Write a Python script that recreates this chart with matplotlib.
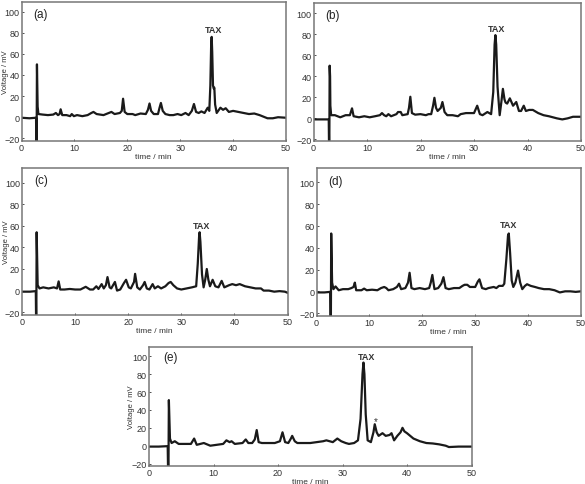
import matplotlib
matplotlib.use("Agg")
import matplotlib.pyplot as plt

plt.rcParams['font.family'] = ['Liberation Sans', 'DejaVu Sans']

# ---- data: (time / min, voltage / mV) ----
trace_a = [(0,-0.5),(1.5,-1),(2.75,-0.5),(2.8,-25),(2.86,-25),(2.92,50),(3.05,10),(3.2,3),(4,2.5),(5,2),(6,2.5),(6.5,4),(6.9,2),(7.2,3),(7.4,7.5),(7.7,2),(8.5,2),(9.2,1),(9.5,3),(9.9,1),(10.5,2),(11.5,1),(12.5,2),(13.2,4),(13.6,5),(14.2,3),(15.5,2),(16.5,4),(17,5),(17.6,3),(18.6,4),(18.95,6),(19.2,17.5),(19.5,5),(20,3),(21,3),(21.5,2),(22.5,3.5),(23.5,3),(23.9,7),(24.2,13),(24.5,6),(25,3),(25.8,3),(26.1,9),(26.35,13.5),(26.7,6),(27.2,3),(28,2),(28.7,2),(29.5,3),(30.2,2),(31,4),(31.6,2),(32.2,6),(32.6,12.5),(33,5),(33.5,4),(34,5.5),(34.6,4),(35.2,9),(35.5,6),(35.7,30),(35.85,68),(35.95,76),(36.05,62),(36.2,30),(36.35,27),(36.45,28),(36.6,12),(36.9,4),(37.6,9),(38.1,7),(38.6,8.5),(39.2,5),(40,6),(41,5),(42,4),(43,3),(44,3.5),(45,2),(46.5,-1),(47.5,-1),(48.5,0),(50,-0.5)]

trace_b = [(0,-1),(1.5,-1),(2.85,-1),(2.9,-25),(2.96,-25),(3.02,50),(3.1,40),(3.15,12),(3.3,3),(4,3),(5,1),(6,3),(6.8,3),(7.2,9.5),(7.5,2),(8.5,1),(9.5,2),(10.5,1),(11.5,2),(12.4,3),(12.8,5),(13.2,3),(13.6,2),(14,4),(14.5,2),(15.5,4),(15.8,6),(16.3,6),(16.6,3),(17.6,4),(17.85,10),(18.1,20.5),(18.4,5),(19,3.5),(20,4),(21,3),(21.5,4),(22,4),(22.35,12),(22.6,19.5),(22.9,10),(23.2,7),(23.8,10),(24.1,15.5),(24.5,6),(25,3),(26,3),(27,2),(27.5,4),(28.5,5),(29.5,5),(30,5),(30.6,12),(31.1,4),(31.6,3),(32.5,6),(33.2,4),(33.6,25),(33.85,70),(34,79),(34.15,70),(34.4,30),(34.8,3),(35.1,15),(35.4,28),(35.7,18),(35.9,15),(36.2,14),(36.7,19),(37.3,12),(37.9,15.5),(38.4,7),(38.8,7),(39.3,12),(39.7,7),(40.3,8),(41,8),(42,5),(43,3),(44,2),(45.5,0),(46.5,-1),(47.5,0),(48.5,1.5),(50,1.5)]

trace_c = [(0,-1),(1.5,-1),(2.6,-0.5),(2.65,-25),(2.7,-25),(2.76,54),(2.95,5),(3.3,2),(4,3),(5,2),(6,3),(6.6,2),(6.9,8.5),(7.2,1),(8,1),(9,1.5),(10,1),(11,1),(12,3.5),(12.8,1),(13.4,1),(14,4),(14.4,1.5),(15,6),(15.4,2),(15.8,5),(16.1,12.5),(16.5,3),(16.8,2),(17.5,8),(17.9,0),(18.5,1),(19.2,7),(19.6,10),(20.1,3),(20.5,2),(21.1,8),(21.3,15.5),(21.7,3),(22.2,1),(22.8,5),(23.1,8),(23.5,2),(24,1),(24.6,6),(25,2),(25.6,4),(26.2,2),(27,4),(27.6,7),(28,8),(28.5,5),(29.2,2),(30,1),(31,2),(32,3),(32.8,4),(33.1,25),(33.35,50),(33.45,54),(33.6,45),(33.9,15),(34.2,3),(34.5,10),(34.8,20),(35.1,10),(35.4,4),(35.9,10),(36.4,4),(37,3),(37.6,9),(38.1,3),(39,5),(39.6,6),(40.3,5),(41,6),(42,4),(43,3),(44,2),(45,2),(45.5,0),(46.5,0),(47.5,-1),(48.5,-0.5),(49.5,-1),(50,-2)]

trace_d = [(0,-1),(1.5,-1),(2.6,-0.5),(2.65,-25),(2.72,-25),(2.78,53),(2.95,8),(3.2,2),(3.6,4.5),(4.2,1),(5,2),(6,2),(6.6,3),(7,4),(7.25,8),(7.5,1),(8.5,1),(9,2.5),(9.5,1),(10.5,1.5),(11.5,1),(12.2,3),(12.8,4),(13.2,3),(13.6,1),(14.5,2),(15.2,4),(15.6,7),(16,2),(16.8,3),(17.3,8),(17.6,17),(17.95,3),(18.5,2),(19.5,3),(20.5,2),(21.3,3),(21.6,8),(21.9,15),(22.3,2),(23,3),(23.6,7),(24,13),(24.4,3),(25,2),(26,3),(27,3),(27.6,5),(28,6),(28.5,6),(29,4),(30,4),(30.5,9),(30.8,11),(31.3,3),(32,2),(32.5,3),(33.5,4),(34,3),(34.5,5),(35.2,5),(35.5,7),(35.9,30),(36.2,51),(36.35,53),(36.6,35),(36.9,10),(37.2,4),(37.6,8),(38.1,19),(38.5,8),(38.9,2),(39.4,5),(39.8,6.5),(40.5,5),(41.3,4),(42,3),(43,2),(44,2),(45,1),(46,-1),(47,0),(48,0),(49,-0.5),(50,0)]

trace_e = [(0,-1),(1.5,-1),(2.9,-0.5),(2.95,-25),(3.02,-25),(3.08,51),(3.25,8),(3.5,3),(4,5),(4.6,2),(5.5,2),(6.5,2),(7,8),(7.4,1),(8.5,3),(9.5,0),(10.5,1),(11.5,2),(12,6),(12.5,4),(12.8,5),(13.3,2),(14.5,3),(15,7),(15.4,3),(16,3),(16.4,7),(16.7,17.5),(17,4),(17.5,3),(18.5,3),(19.5,3),(20.3,5),(20.7,15),(21.1,4),(21.6,3),(22,8),(22.2,11),(22.6,5),(23,3),(24,3),(25,3),(26,4),(27,5),(27.5,6),(28,5),(28.5,4),(29.2,8),(29.8,5),(30.5,3),(31,2),(31.8,3),(32.4,6),(32.8,30),(33.1,80),(33.25,93),(33.4,80),(33.6,35),(33.9,6),(34.4,4),(34.8,15),(35,24),(35.3,15),(35.6,11),(36.2,14),(36.7,11),(37.3,12),(37.6,14),(38,6),(38.5,11),(39,15),(39.3,20),(39.6,16),(40,14),(40.5,11),(41,8),(42,5),(43,3),(44,2.5),(45,1.5),(46,0),(46.5,-1.5),(48,-1),(50,-1)]

panel_labels = ['(a)', '(b)', '(c)', '(d)', '(e)']
tax_pos = [(36.3, 83), (34.3, 85), (33.8, 60), (36.3, 61), (33.8, 100)]
x_ticks = [0, 10, 20, 30, 40, 50]
y_ticks = [-20, 0, 20, 40, 60, 80, 100]
y_limits = [(-22.5, 109), (-21.5, 109.5), (-22.6, 113.5), (-22.6, 113), (-22.7, 110.4)]
star_pos = (35.1, 27)

W, H = 585, 485
fig = plt.figure(figsize=(W/100, H/100), dpi=100)

def rect(l, r, t, b):
    return [l/W, 1 - b/H, (r-l)/W, (b-t)/H]

rects = [rect(21.5, 286, 3, 142), rect(313.5, 581, 4, 142),
         rect(22, 287.5, 169, 316), rect(316.5, 581, 169, 317),
         rect(149, 471.5, 348, 467)]
traces = [trace_a, trace_b, trace_c, trace_d, trace_e]
ylabel_x = {0: -0.047, 2: -0.047, 4: -0.043}

for i, (r, tr) in enumerate(zip(rects, traces)):
    ax = fig.add_axes(r)
    t = [p[0] for p in tr]
    v = [p[1] for p in tr]
    ax.plot(t, v, color='#1a1a1a', lw=1.6, solid_joinstyle='round')
    ax.set_xlim(0, 50)
    ax.set_ylim(*y_limits[i])
    ax.set_xticks(x_ticks)
    ax.set_yticks(y_ticks)
    ax.tick_params(labelsize=6.5, length=1.5, width=0.6, direction='in',
                   colors='#333333', pad=1.5)
    for s in ax.spines.values():
        s.set_color('#777777')
        s.set_linewidth(1.1)
    ax.text(0.045, 0.915, panel_labels[i], transform=ax.transAxes,
            fontsize=8.5, va='center', ha='left', color='#222222')
    ax.text(tax_pos[i][0], tax_pos[i][1], 'TAX', fontsize=6.5, ha='center',
            va='center', color='#333333', fontweight='bold')
    ax.set_xlabel('time / min', fontsize=6, labelpad=1, color='#333333')
    if i in ylabel_x:
        ax.set_ylabel('Voltage / mV', fontsize=5.5, color='#333333')
        ax.yaxis.set_label_coords(ylabel_x[i], 0.5)
    if i == 4:
        ax.text(star_pos[0], star_pos[1], '*', fontsize=7, ha='center',
                va='center', color='#333333')

fig.savefig('out.png', dpi=100)
